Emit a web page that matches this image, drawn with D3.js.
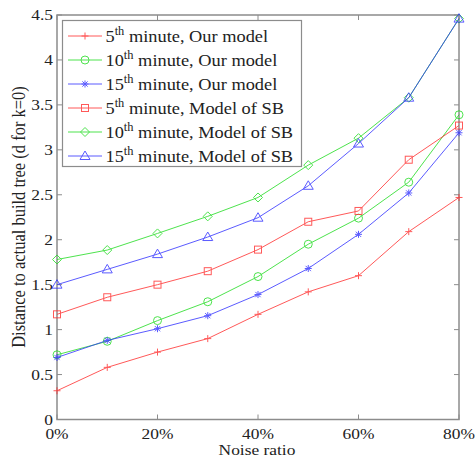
<!DOCTYPE html>
<html>
<head>
<meta charset="utf-8">
<script src="https://cdn.jsdelivr.net/npm/d3@7"></script>
<style>
  body { margin: 0; background: #fff; }
  text { font-family: "Liberation Serif", "Times New Roman", serif; fill: #222; }
</style>
</head>
<body>
<div id="plot"></div>
<script>
// Noise ratio (%) and distance values
const noise = [0, 10, 20, 30, 40, 50, 60, 70, 80];
const our5  = [0.32, 0.58, 0.75, 0.90, 1.17, 1.42, 1.60, 2.09, 2.47];
const our10 = [0.72, 0.87, 1.10, 1.31, 1.59, 1.95, 2.24, 2.64, 3.39];
const our15 = [0.69, 0.88, 1.01, 1.155, 1.39, 1.68, 2.06, 2.52, 3.19];
const sb5   = [1.17, 1.36, 1.50, 1.65, 1.89, 2.20, 2.32, 2.89, 3.27];
const sb10  = [1.78, 1.885, 2.07, 2.26, 2.47, 2.83, 3.13, 3.58, 4.46];
const sb15  = [1.50, 1.67, 1.84, 2.03, 2.245, 2.60, 3.07, 3.58, 4.46];

const xTicks = [0, 20, 40, 60, 80];
const yTicks = [0, 0.5, 1, 1.5, 2, 2.5, 3, 3.5, 4, 4.5];

const series = [
    { num: "5",  rest: " minute, Our model",   values: our5,  color: "#ff3030", marker: "plus" },
    { num: "10", rest: " minute, Our model",   values: our10, color: "#22dd22", marker: "circle" },
    { num: "15", rest: " minute, Our model",   values: our15, color: "#3333ff", marker: "star" },
    { num: "5",  rest: " minute, Model of SB", values: sb5,   color: "#ff3030", marker: "square" },
    { num: "10", rest: " minute, Model of SB", values: sb10,  color: "#22dd22", marker: "diamond" },
    { num: "15", rest: " minute, Model of SB", values: sb15,  color: "#3333ff", marker: "triangle" }
];

const width = 476, height = 462;
const plotL = 57, plotR = 459, plotT = 15, plotB = 419.5;

const svg = d3.select("#plot")
    .append("svg")
    .attr("width", width)
    .attr("height", height);

const x = d3.scaleLinear().domain([0, 80]).range([plotL, plotR]);
const y = d3.scaleLinear().domain([0, 4.5]).range([plotB, plotT]);

const axisColor = "#8c8c8c";
const stretch = 1.16;  // the original figure's text is a bit wide

// Ticks pointing inward on all four sides
const tickLen = 5;
xTicks.forEach(t => {
    svg.append("line").attr("x1", x(t)).attr("x2", x(t)).attr("y1", plotB).attr("y2", plotB - tickLen)
        .attr("stroke", axisColor);
    svg.append("line").attr("x1", x(t)).attr("x2", x(t)).attr("y1", plotT).attr("y2", plotT + tickLen)
        .attr("stroke", axisColor);
    svg.append("text")
        .attr("transform", `translate(${x(t)},438.5) scale(${stretch},1)`)
        .attr("text-anchor", "middle")
        .style("font-size", "15px")
        .text(t + "%");
});
yTicks.forEach(t => {
    svg.append("line").attr("x1", plotL).attr("x2", plotL + tickLen).attr("y1", y(t)).attr("y2", y(t))
        .attr("stroke", axisColor);
    svg.append("line").attr("x1", plotR).attr("x2", plotR - tickLen).attr("y1", y(t)).attr("y2", y(t))
        .attr("stroke", axisColor);
    svg.append("text")
        .attr("transform", `translate(53,${y(t) + 5}) scale(${stretch},1)`)
        .attr("text-anchor", "end")
        .style("font-size", "15px")
        .text(t);
});

// Frame
svg.append("rect")
    .attr("x", plotL).attr("y", plotT)
    .attr("width", plotR - plotL).attr("height", plotB - plotT)
    .attr("fill", "none")
    .attr("stroke", axisColor)
    .attr("stroke-width", 1.5);

// Axis titles
svg.append("text")
    .attr("transform", `translate(${(plotL + plotR) / 2 - 1},455) scale(${stretch},1)`)
    .attr("text-anchor", "middle")
    .style("font-size", "15px")
    .text("Noise ratio");

svg.append("text")
    .attr("transform", `translate(25,217) rotate(-90) scale(1,${stretch})`)
    .attr("text-anchor", "middle")
    .style("font-size", "16.5px")
    .text("Distance to actual build tree (d for k=0)");

// Marker shapes
function drawMarker(g, kind, cx, cy, color) {
    const s = 3.5;
    if (kind === "plus") {
        g.append("path").attr("d", `M${cx - s},${cy}H${cx + s}M${cx},${cy - s}V${cy + s}`)
            .attr("stroke", color).attr("fill", "none");
    } else if (kind === "circle") {
        g.append("circle").attr("cx", cx).attr("cy", cy).attr("r", 4)
            .attr("stroke", color).attr("fill", "none");
    } else if (kind === "star") {
        const d = s * 0.75;
        g.append("path")
            .attr("d", `M${cx - s},${cy}H${cx + s}M${cx},${cy - s}V${cy + s}M${cx - d},${cy - d}L${cx + d},${cy + d}M${cx - d},${cy + d}L${cx + d},${cy - d}`)
            .attr("stroke", color).attr("fill", "none");
    } else if (kind === "square") {
        g.append("rect").attr("x", cx - 3.5).attr("y", cy - 3.5).attr("width", 7).attr("height", 7)
            .attr("stroke", color).attr("fill", "none");
    } else if (kind === "diamond") {
        g.append("path").attr("d", `M${cx},${cy - 4.5}L${cx + 4.5},${cy}L${cx},${cy + 4.5}L${cx - 4.5},${cy}Z`)
            .attr("stroke", color).attr("fill", "none");
    } else if (kind === "triangle") {
        g.append("path").attr("d", `M${cx},${cy - 5}L${cx + 5},${cy + 3.5}L${cx - 5},${cy + 3.5}Z`)
            .attr("stroke", color).attr("fill", "none");
    }
}

const line = d3.line()
    .x((d, i) => x(noise[i]))
    .y(d => y(d));

// Lines with markers
series.forEach(s => {
    const g = svg.append("g").attr("opacity", 0.8);
    g.append("path")
        .datum(s.values)
        .attr("d", line)
        .attr("fill", "none")
        .attr("stroke", s.color)
        .attr("stroke-width", 1);
    s.values.forEach((v, i) => drawMarker(g, s.marker, x(noise[i]), y(v), s.color));
});

// Legend
const legend = svg.append("g");
legend.append("rect")
    .attr("x", 62.5).attr("y", 20.5)
    .attr("width", 239).attr("height", 146)
    .attr("fill", "#fff")
    .attr("stroke", axisColor)
    .attr("stroke-width", 1.2);

series.forEach((s, i) => {
    const ly = 36 + i * 24;
    const g = legend.append("g").attr("opacity", 0.8);
    g.append("line")
        .attr("x1", 68).attr("x2", 102)
        .attr("y1", ly).attr("y2", ly)
        .attr("stroke", s.color);
    drawMarker(g, s.marker, 85, ly, s.color);
    const t = legend.append("text")
        .attr("transform", `translate(105.5,${ly + 6}) scale(1.08,1)`)
        .style("font-size", "17px");
    t.append("tspan").text(s.num);
    t.append("tspan").attr("dy", -7).style("font-size", "11.5px").text("th");
    t.append("tspan").attr("dy", 7).text(s.rest);
});
</script>
</body>
</html>
